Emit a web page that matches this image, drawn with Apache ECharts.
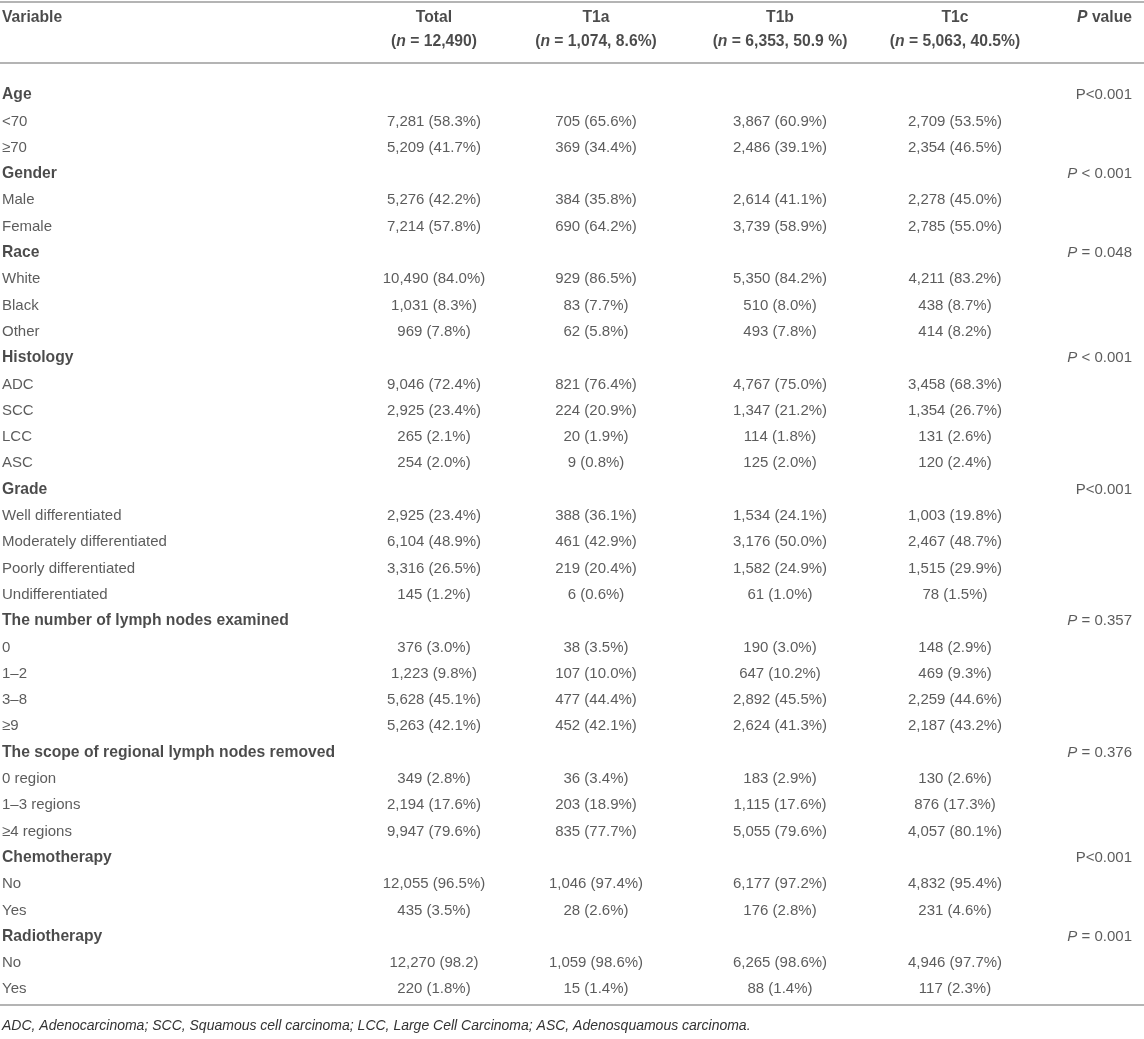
<!DOCTYPE html>
<html><head><meta charset="utf-8">
<script src="https://cdn.jsdelivr.net/npm/echarts@6/dist/echarts.min.js"></script>
<style>html,body{margin:0;padding:0;background:#fff}#c{width:1144px;height:1039px}</style>
</head><body><div id="c"></div>
<script>
const headers = ['Variable', 'Total', 'T1a', 'T1b', 'T1c', 'P value'];
const headerN = ['', '(n = 12,490)', '(n = 1,074, 8.6%)', '(n = 6,353, 50.9 %)', '(n = 5,063, 40.5%)', ''];
const groupRows = [0, 3, 6, 10, 15, 20, 25, 29, 32];
const variables = ['Age', '<70', '≥70', 'Gender', 'Male', 'Female', 'Race', 'White', 'Black', 'Other',
  'Histology', 'ADC', 'SCC', 'LCC', 'ASC', 'Grade', 'Well differentiated', 'Moderately differentiated',
  'Poorly differentiated', 'Undifferentiated', 'The number of lymph nodes examined', '0', '1–2', '3–8', '≥9',
  'The scope of regional lymph nodes removed', '0 region', '1–3 regions', '≥4 regions', 'Chemotherapy', 'No', 'Yes',
  'Radiotherapy', 'No', 'Yes'];
const total = ['', '7,281 (58.3%)', '5,209 (41.7%)', '', '5,276 (42.2%)', '7,214 (57.8%)', '', '10,490 (84.0%)', '1,031 (8.3%)', '969 (7.8%)',
  '', '9,046 (72.4%)', '2,925 (23.4%)', '265 (2.1%)', '254 (2.0%)', '', '2,925 (23.4%)', '6,104 (48.9%)', '3,316 (26.5%)', '145 (1.2%)',
  '', '376 (3.0%)', '1,223 (9.8%)', '5,628 (45.1%)', '5,263 (42.1%)', '', '349 (2.8%)', '2,194 (17.6%)', '9,947 (79.6%)',
  '', '12,055 (96.5%)', '435 (3.5%)', '', '12,270 (98.2)', '220 (1.8%)'];
const t1a = ['', '705 (65.6%)', '369 (34.4%)', '', '384 (35.8%)', '690 (64.2%)', '', '929 (86.5%)', '83 (7.7%)', '62 (5.8%)',
  '', '821 (76.4%)', '224 (20.9%)', '20 (1.9%)', '9 (0.8%)', '', '388 (36.1%)', '461 (42.9%)', '219 (20.4%)', '6 (0.6%)',
  '', '38 (3.5%)', '107 (10.0%)', '477 (44.4%)', '452 (42.1%)', '', '36 (3.4%)', '203 (18.9%)', '835 (77.7%)',
  '', '1,046 (97.4%)', '28 (2.6%)', '', '1,059 (98.6%)', '15 (1.4%)'];
const t1b = ['', '3,867 (60.9%)', '2,486 (39.1%)', '', '2,614 (41.1%)', '3,739 (58.9%)', '', '5,350 (84.2%)', '510 (8.0%)', '493 (7.8%)',
  '', '4,767 (75.0%)', '1,347 (21.2%)', '114 (1.8%)', '125 (2.0%)', '', '1,534 (24.1%)', '3,176 (50.0%)', '1,582 (24.9%)', '61 (1.0%)',
  '', '190 (3.0%)', '647 (10.2%)', '2,892 (45.5%)', '2,624 (41.3%)', '', '183 (2.9%)', '1,115 (17.6%)', '5,055 (79.6%)',
  '', '6,177 (97.2%)', '176 (2.8%)', '', '6,265 (98.6%)', '88 (1.4%)'];
const t1c = ['', '2,709 (53.5%)', '2,354 (46.5%)', '', '2,278 (45.0%)', '2,785 (55.0%)', '', '4,211 (83.2%)', '438 (8.7%)', '414 (8.2%)',
  '', '3,458 (68.3%)', '1,354 (26.7%)', '131 (2.6%)', '120 (2.4%)', '', '1,003 (19.8%)', '2,467 (48.7%)', '1,515 (29.9%)', '78 (1.5%)',
  '', '148 (2.9%)', '469 (9.3%)', '2,259 (44.6%)', '2,187 (43.2%)', '', '130 (2.6%)', '876 (17.3%)', '4,057 (80.1%)',
  '', '4,832 (95.4%)', '231 (4.6%)', '', '4,946 (97.7%)', '117 (2.3%)'];
const pValues = ['P<0.001', '', '', 'P < 0.001', '', '', 'P = 0.048', '', '', '',
  'P < 0.001', '', '', '', '', 'P<0.001', '', '', '', '',
  'P = 0.357', '', '', '', '', 'P = 0.376', '', '', '',
  'P<0.001', '', '', 'P = 0.001', '', ''];
const footnote = 'ADC, Adenocarcinoma; SCC, Squamous cell carcinoma; LCC, Large Cell Carcinoma; ASC, Adenosquamous carcinoma.';

// layout (not data)
const W = 1144;
const colX = [2, 434, 596, 780, 955, 1132];
const colAlign = ['left', 'center', 'center', 'center', 'center', 'right'];
const FONT = '"Liberation Sans", Arial, Helvetica, sans-serif';
const FS = 15;
const FSB = 15.7;
const TXT = '#333';
const RULE = '#b4b4b4';

const rich = {
  r: { fontFamily: FONT, fontSize: FS, color: TXT },
  i: { fontFamily: FONT, fontSize: FS, color: TXT, fontStyle: 'italic' },
  b: { fontFamily: FONT, fontSize: FSB, color: '#1e1e1e', fontWeight: 'bold' },
  bi: { fontFamily: FONT, fontSize: FSB, color: '#1e1e1e', fontWeight: 'bold', fontStyle: 'italic' }
};
function esc(s) { return s.replace(/[{}|]/g, ''); }
function fmtP(s) {
  if (s.indexOf(' ') >= 0 && s[0] === 'P') return '{i|P}{r|' + esc(s.slice(1)) + '}';
  return '{r|' + esc(s) + '}';
}
function fmtHeaderN(s) {
  if (s.indexOf('(n') === 0) return '{b|(}{bi|n}{b|' + esc(s.slice(2)) + '}';
  return '{b|' + esc(s) + '}';
}
function fmtHeader(s) {
  if (s === 'P value') return '{bi|P}{b| value}';
  return '{b|' + esc(s) + '}';
}

const bodyCols = [variables, total, t1a, t1b, t1c, pValues];
const rowIdx = variables.map((v, i) => String(i));

const series = [];
bodyCols.forEach((col, c) => {
  const data = [];
  col.forEach((txt, i) => { if (txt !== '') data.push({ value: [colX[c], i], txt: txt }); });
  series.push({
    type: 'scatter', xAxisIndex: 0, yAxisIndex: 0, symbolSize: 0, silent: true, animation: false,
    data: data,
    label: {
      show: true, position: 'inside', align: colAlign[c], verticalAlign: 'middle', rich: rich,
      formatter: p => {
        const t = p.data.txt;
        if (c === 0) return groupRows.indexOf(p.data.value[1]) >= 0 ? '{b|' + esc(t) + '}' : '{r|' + esc(t) + '}';
        if (c === 5) return fmtP(t);
        return '{r|' + esc(t) + '}';
      }
    }
  });
});
// header rows
[headers, headerN].forEach((row, r) => {
  const data = [];
  row.forEach((txt, c) => {
    if (txt !== '') data.push({ value: [colX[c], r], txt: txt, label: { align: colAlign[c] } });
  });
  series.push({
    type: 'scatter', xAxisIndex: 1, yAxisIndex: 1, symbolSize: 0, silent: true, animation: false,
    data: data,
    label: {
      show: true, position: 'inside', verticalAlign: 'middle', rich: rich,
      formatter: p => r === 0 ? fmtHeader(p.data.txt) : fmtHeaderN(p.data.txt)
    }
  });
});

const hiddenVal = { type: 'value', min: 0, max: W, show: false };
const option = {
  animation: false,
  backgroundColor: '#fff',
  grid: [
    { left: 0, right: 0, top: 82, height: 920.5 },
    { left: 0, right: 0, top: 6, height: 48 }
  ],
  xAxis: [Object.assign({ gridIndex: 0 }, hiddenVal), Object.assign({ gridIndex: 1 }, hiddenVal)],
  yAxis: [
    { type: 'category', gridIndex: 0, data: rowIdx, inverse: true, show: false },
    { type: 'category', gridIndex: 1, data: ['h0', 'h1'], inverse: true, show: false }
  ],
  series: series,
  graphic: [
    { type: 'line', shape: { x1: 0, y1: 2, x2: W, y2: 2 }, style: { stroke: RULE, lineWidth: 2 } },
    { type: 'line', shape: { x1: 0, y1: 63, x2: W, y2: 63 }, style: { stroke: RULE, lineWidth: 2 } },
    { type: 'line', shape: { x1: 0, y1: 1005, x2: W, y2: 1005 }, style: { stroke: RULE, lineWidth: 2 } },
    { type: 'text', left: 2, top: 1019, style: { text: footnote, font: 'italic 14px ' + FONT, fill: TXT } }
  ]
};
const chart = echarts.init(document.getElementById('c'));
chart.setOption(option);
</script>
</body></html>
